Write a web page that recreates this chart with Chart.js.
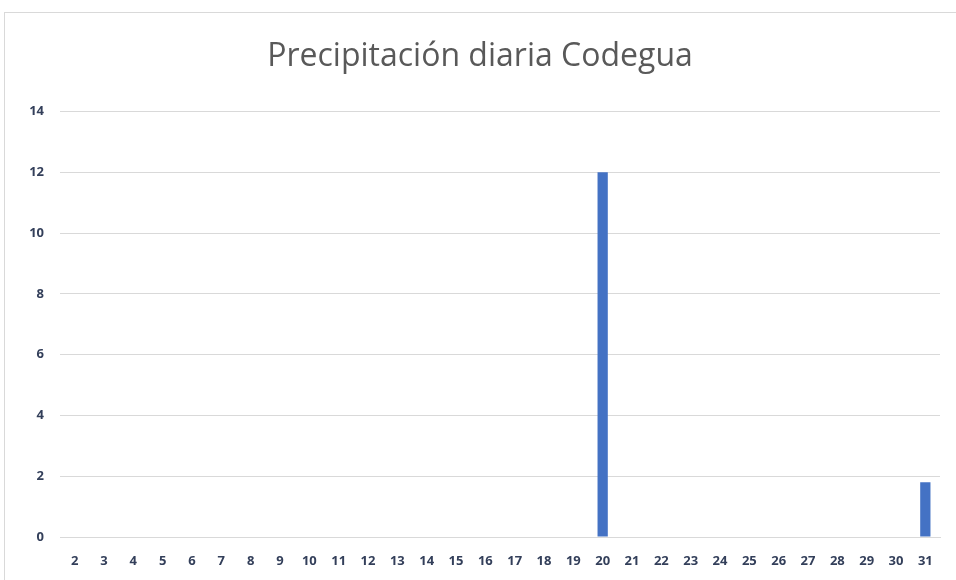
<!DOCTYPE html>
<html>
<head>
<meta charset="utf-8">
<script src="https://cdn.jsdelivr.net/npm/chart.js@4"></script>
<style>
  html, body { margin: 0; padding: 0; background: #fff; }
  #wrap { position: relative; width: 956px; height: 580px; }
  #frame { position: absolute; left: 4px; top: 12px; width: 960px; height: 600px; border: 1px solid #d9d9d9; pointer-events: none; }
</style>
</head>
<body>
<div id="wrap">
  <canvas id="rainChart" width="956" height="580"></canvas>
  <div id="frame"></div>
</div>
<script>
// Daily rainfall (mm) for days 2..31
const days = ["2","3","4","5","6","7","8","9","10","11","12","13","14","15","16","17","18","19","20","21","22","23","24","25","26","27","28","29","30","31"];
const rain = [0,0,0,0,0,0,0,0,0,0,0,0,0,0,0,0,0,0,12,0,0,0,0,0,0,0,0,0,0,1.8];
const yTicks = [0, 2, 4, 6, 8, 10, 12, 14];

const tickFont = { family: "'Open Sans', 'Liberation Sans', sans-serif", size: 13, weight: "bold" };
const tickColor = "#333f5a";

new Chart(document.getElementById("rainChart"), {
  type: "bar",
  data: {
    labels: days,
    datasets: [{
      label: "Precipitación",
      data: rain,
      backgroundColor: "#4472c4",
      borderWidth: 0,
      barPercentage: 0.35,
      categoryPercentage: 1
    }]
  },
  options: {
    responsive: false,
    animation: false,
    layout: { padding: { left: 20, right: 16, top: 0, bottom: 3 } },
    plugins: {
      legend: { display: false },
      tooltip: { enabled: false },
      title: {
        display: true,
        text: "Precipitación diaria Codegua",
        color: "#595959",
        font: { family: "'Open Sans', 'Liberation Sans', sans-serif", size: 32, weight: "normal" },
        padding: { top: 38, bottom: 35 }
      }
    },
    scales: {
      x: {
        grid: { display: false, drawTicks: false },
        border: { display: true, color: "#d9d9d9" },
        ticks: { color: tickColor, font: tickFont, padding: 16, maxRotation: 0, autoSkip: false },
        afterFit: function (s) { s.height = 40; }
      },
      y: {
        min: 0,
        max: 14,
        afterBuildTicks: function (s) { s.ticks = yTicks.map(v => ({ value: v })); },
        grid: { color: "#d9d9d9", drawTicks: false },
        border: { display: false },
        ticks: { color: tickColor, font: tickFont, padding: 16 },
        afterFit: function (s) { s.width = 40; }
      }
    }
  }
});
</script>
</body>
</html>
